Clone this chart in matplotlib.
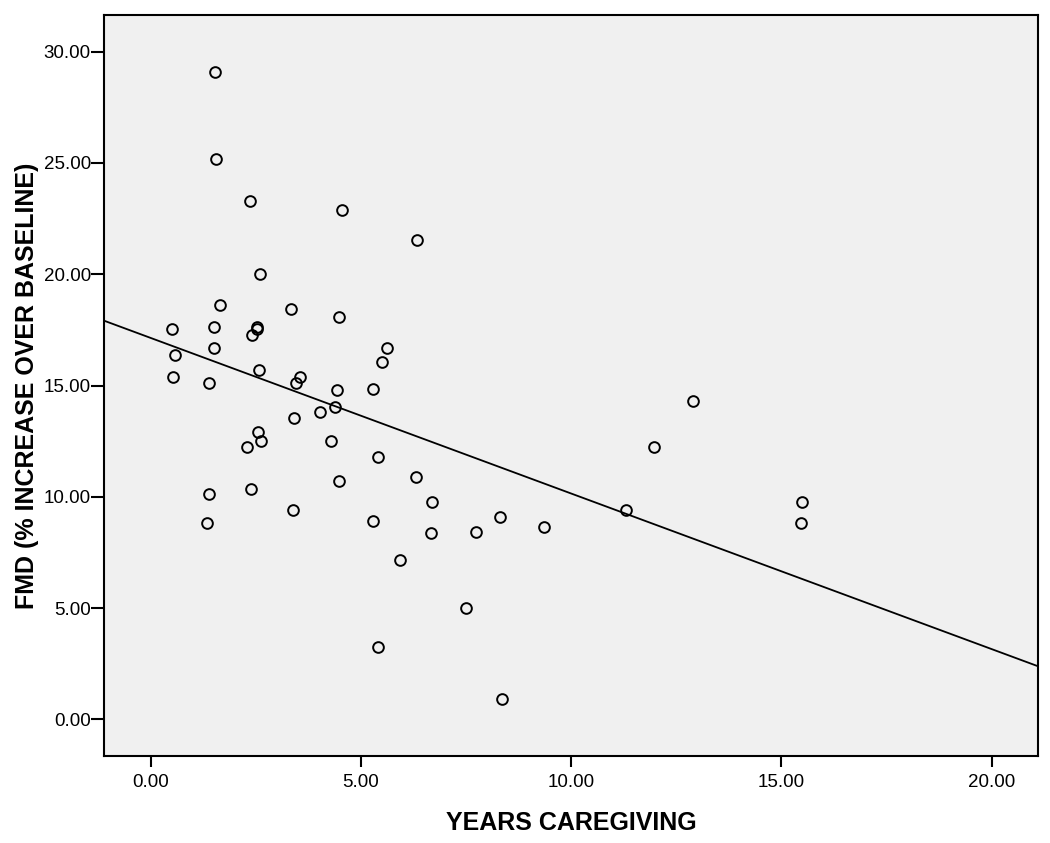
import matplotlib
matplotlib.use('Agg')
import matplotlib.pyplot as plt
from matplotlib.ticker import FormatStrFormatter
import numpy as np

# Werte
years = [2.60, 1.66, 3.34, 4.49, 0.50, 1.51, 2.52, 2.54, 2.42, 5.61,
         1.51, 0.59, 5.49, 0.53, 2.58, 3.56, 3.45, 1.38, 4.42, 5.29,
         4.38, 4.03, 3.42, 2.55, 2.62, 2.28, 4.28, 5.40, 6.30, 4.48,
         1.39, 2.39, 6.68, 3.38, 1.33, 5.29, 6.66, 7.73, 8.31, 9.36,
         5.94, 7.49, 5.41, 8.36, 1.52, 1.55, 2.36, 4.56, 6.33, 12.89,
         11.97, 11.30, 15.48, 15.46]
fmd = [20.00, 18.60, 18.42, 18.08, 17.54, 17.64, 17.64, 17.54, 17.27, 16.67,
       16.67, 16.38, 16.06, 15.40, 15.68, 15.40, 15.13, 15.13, 14.80, 14.86,
       14.02, 13.80, 13.53, 12.91, 12.51, 12.22, 12.51, 11.77, 10.87, 10.70,
       10.11, 10.36, 9.77, 9.41, 8.81, 8.91, 8.36, 8.40, 9.10, 8.64,
       7.15, 5.02, 3.24, 0.90, 29.10, 25.19, 23.28, 22.89, 21.53, 14.29,
       12.22, 9.42, 9.77, 8.83]
x_ticks = [0, 5, 10, 15, 20]
y_ticks = [0, 5, 10, 15, 20, 25, 30]

plt.rcParams['font.family'] = ['Liberation Sans', 'DejaVu Sans']

fig = plt.figure(figsize=(10.5, 8.43), dpi=100)
ax = fig.add_axes([0.099, 0.1032, 0.8896, 0.879])
ax.set_facecolor('#f0f0f0')

ax.set_xlim(-1.11, 21.10)
ax.set_ylim(-1.65, 31.65)

# Regressionsgerade (lineare Anpassung)
slope, intercept = np.polyfit(years, fmd, 1)
xl = np.array(ax.get_xlim())
ax.plot(xl, intercept + slope * xl, color='black', linewidth=1.3, zorder=2)

ax.plot(years, fmd, linestyle='none', marker='o', markersize=7.7,
        markerfacecolor='none', markeredgecolor='black', markeredgewidth=1.4,
        zorder=3)

ax.set_xticks(x_ticks)
ax.set_yticks(y_ticks)
ax.xaxis.set_major_formatter(FormatStrFormatter('%.2f'))
ax.yaxis.set_major_formatter(FormatStrFormatter('%.2f'))
ax.tick_params(direction='out', width=1.5, labelsize=13.5, colors='black')
ax.tick_params(axis='y', length=9.5, pad=0)
ax.tick_params(axis='x', length=8, pad=5)

for sp in ax.spines.values():
    sp.set_linewidth(1.5)
    sp.set_color('black')

ax.set_xlabel('YEARS CAREGIVING', fontsize=18, fontweight='bold', labelpad=14)
ax.set_ylabel('FMD (% INCREASE OVER BASELINE)', fontsize=18,
              fontweight='bold', labelpad=3)

fig.savefig('out.png', dpi=100)
plt.close(fig)
